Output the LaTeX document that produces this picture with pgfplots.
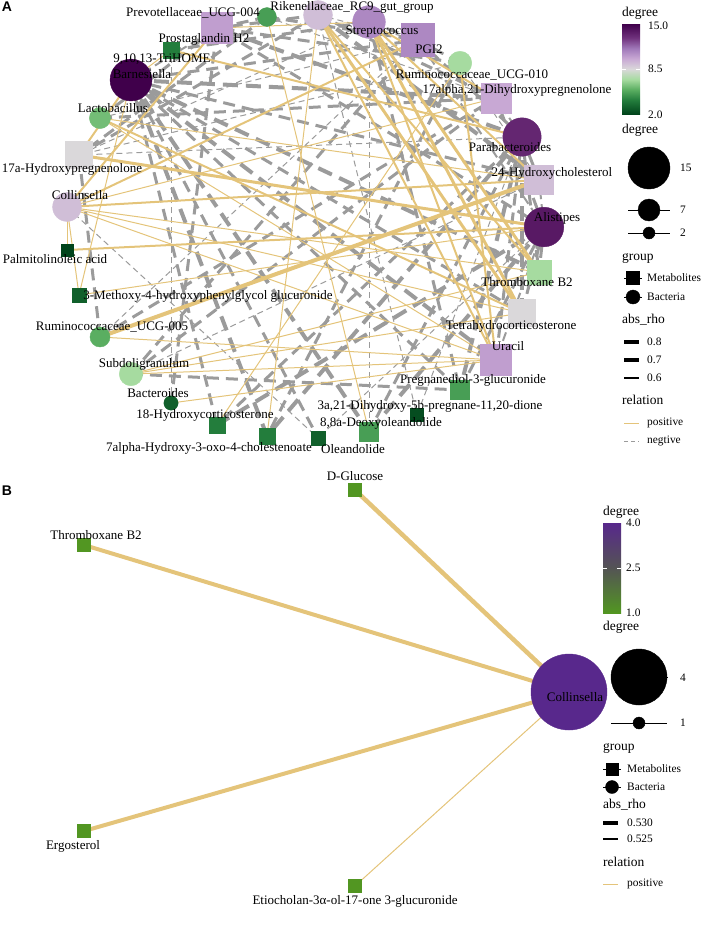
\documentclass[border=0pt]{standalone}
\usepackage{fontspec}
\setmainfont{Liberation Serif}
\newfontfamily\tagfont{Liberation Sans}
\usepackage{pgfplots}
\pgfplotsset{compat=1.18}
\definecolor{eyel}{RGB}{228,196,122}
\definecolor{egray}{RGB}{155,155,155}
\newcommand\lbl{\fontsize{13}{15}\selectfont}
\newcommand\ltitle{\fontsize{13.5}{16}\selectfont}
\newcommand\ltext{\fontsize{11.4}{13}\selectfont}
\tikzset{
 ng1/.style={mark=none, draw=egray, line width=1pt, dash pattern=on 6pt off 4pt, line cap=butt},
 ng2/.style={mark=none, draw=egray, line width=2pt, dash pattern=on 9pt off 5pt, line cap=butt},
 ng3/.style={mark=none, draw=egray, line width=3pt, dash pattern=on 12pt off 7pt, line cap=butt},
 ng4/.style={mark=none, draw=egray, line width=4pt, dash pattern=on 15pt off 8pt, line cap=butt},
 ps1/.style={mark=none, draw=eyel, line width=1pt, solid},
 ps2/.style={mark=none, draw=eyel, line width=2pt, solid},
 ps3/.style={mark=none, draw=eyel, line width=3pt, solid},
 ps4/.style={mark=none, draw=eyel, line width=4pt, solid},
 lab/.style={inner sep=0pt, font=\lbl},
 lt/.style={inner sep=0pt, anchor=west, font=\ltitle},
 lx/.style={inner sep=0pt, anchor=west, font=\ltext},
}
\pgfdeclareverticalshading{prgnA}{100bp}{rgb(0bp)=(0,0.267,0.106); rgb(25bp)=(0,0.267,0.106); rgb(32.7bp)=(0.137,0.49,0.235); rgb(38.5bp)=(0.353,0.682,0.38); rgb(44.2bp)=(0.651,0.859,0.627); rgb(50bp)=(0.855,0.847,0.855); rgb(55.8bp)=(0.784,0.659,0.831); rgb(61.5bp)=(0.627,0.471,0.725); rgb(67.3bp)=(0.439,0.196,0.49); rgb(75bp)=(0.251,0,0.294); rgb(100bp)=(0.251,0,0.294)}
\pgfdeclareverticalshading{cmBbar}{100bp}{rgb(0bp)=(0.32,0.59,0.13); rgb(25bp)=(0.32,0.59,0.13); rgb(50bp)=(0.33,0.33,0.33); rgb(75bp)=(0.345,0.157,0.549); rgb(100bp)=(0.345,0.157,0.549)}
\pgfplotsset{
 colormap={cmA}{rgb255(0cm)=(0,68,27) rgb255(4cm)=(35,125,60) rgb255(7cm)=(90,174,97) rgb255(10cm)=(166,219,160) rgb255(13cm)=(218,216,218) rgb255(16cm)=(200,168,212) rgb255(19cm)=(160,120,185) rgb255(22cm)=(112,50,125) rgb255(26cm)=(64,0,75)},
 colormap={cmB}{rgb255(0cm)=(82,150,34) rgb255(1cm)=(85,85,85) rgb255(2cm)=(88,40,140)},
}
\newcommand\E[3]{\addplot[#1] coordinates {#2 #3};}
\begin{document}
\begin{tikzpicture}
\useasboundingbox (0pt,0pt) rectangle (702pt,-935pt);
% ================= Panel A =================
\begin{axis}[at={(0pt,0pt)}, anchor=north west, scale only axis,
 width=702pt, height=470pt, xmin=0, xmax=702, ymin=0, ymax=470, y dir=reverse,
 axis lines=none, ticks=none, clip=false,
 colormap name=cmA, point meta min=2, point meta max=15]
% negative correlations
\E{ng2}{(131,80)}{(217,28)}
\E{ng3}{(131,80)}{(418,40)}
\E{ng4}{(131,80)}{(496,98)}
\E{ng3}{(131,80)}{(539,180)}
\E{ng4}{(131,80)}{(539,272)}
\E{ng3}{(131,80)}{(522,313)}
\E{ng4}{(131,80)}{(496,360)}
\E{ng3}{(131,80)}{(460,390)}
\E{ng4}{(131,80)}{(369,432)}
\E{ng3}{(131,80)}{(318,438)}
\E{ng4}{(131,80)}{(267,436)}
\E{ng3}{(131,80)}{(217,425)}
\E{ng4}{(522,137)}{(217,28)}
\E{ng3}{(522,137)}{(418,40)}
\E{ng2}{(522,137)}{(496,98)}
\E{ng3}{(522,137)}{(539,180)}
\E{ng3}{(522,137)}{(539,272)}
\E{ng4}{(522,137)}{(522,313)}
\E{ng3}{(522,137)}{(496,360)}
\E{ng4}{(522,137)}{(460,390)}
\E{ng1}{(522,137)}{(417,415)}
\E{ng3}{(522,137)}{(369,432)}
\E{ng4}{(522,137)}{(267,436)}
\E{ng3}{(522,137)}{(217,425)}
\E{ng1}{(522,137)}{(79,155)}
\E{ng3}{(544,227)}{(217,28)}
\E{ng2}{(544,227)}{(418,40)}
\E{ng3}{(544,227)}{(496,98)}
\E{ng2}{(544,227)}{(539,180)}
\E{ng3}{(544,227)}{(539,272)}
\E{ng3}{(544,227)}{(522,313)}
\E{ng2}{(544,227)}{(496,360)}
\E{ng3}{(544,227)}{(460,390)}
\E{ng4}{(544,227)}{(369,432)}
\E{ng1}{(544,227)}{(318,438)}
\E{ng4}{(544,227)}{(217,425)}
\E{ng3}{(369,22)}{(418,40)}
\E{ng3}{(369,22)}{(460,390)}
\E{ng1}{(369,22)}{(369,432)}
\E{ng1}{(369,22)}{(79,155)}
\E{ng3}{(369,22)}{(171,50)}
\E{ng3}{(318,15)}{(217,28)}
\E{ng1}{(318,15)}{(418,40)}
\E{ng3}{(318,15)}{(496,98)}
\E{ng4}{(318,15)}{(539,180)}
\E{ng3}{(318,15)}{(79,155)}
\E{ng1}{(318,15)}{(417,415)}
\E{ng1}{(67,207)}{(318,438)}
\E{ng3}{(460,63)}{(217,28)}
\E{ng3}{(460,63)}{(418,40)}
\E{ng1}{(460,63)}{(539,180)}
\E{ng1}{(460,63)}{(79,155)}
\E{ng3}{(460,63)}{(267,436)}
\E{ng3}{(131,374)}{(418,40)}
\E{ng3}{(131,374)}{(496,98)}
\E{ng1}{(131,374)}{(539,180)}
\E{ng3}{(131,374)}{(460,390)}
\E{ng3}{(100,118)}{(217,28)}
\E{ng1}{(100,118)}{(418,40)}
\E{ng3}{(100,118)}{(496,98)}
\E{ng1}{(100,337)}{(418,40)}
\E{ng3}{(100,337)}{(496,98)}
\E{ng3}{(100,337)}{(79,155)}
\E{ng3}{(267,17)}{(217,28)}
\E{ng3}{(267,17)}{(418,40)}
\E{ng1}{(267,17)}{(496,98)}
\E{ng3}{(267,17)}{(79,155)}
\E{ng3}{(171,403)}{(217,28)}
\E{ng1}{(171,403)}{(171,50)}
% positive correlations
\E{ps1}{(131,80)}{(79,295)}
\E{ps2}{(131,80)}{(79,155)}
\E{ps1}{(131,80)}{(171,50)}
\E{ps2}{(522,137)}{(171,50)}
\E{ps1}{(544,227)}{(79,295)}
\E{ps2}{(544,227)}{(67,250)}
\E{ps3}{(544,227)}{(79,155)}
\E{ps1}{(369,22)}{(217,28)}
\E{ps2}{(369,22)}{(496,98)}
\E{ps2}{(369,22)}{(539,180)}
\E{ps3}{(369,22)}{(539,272)}
\E{ps3}{(369,22)}{(522,313)}
\E{ps2}{(369,22)}{(496,360)}
\E{ps2}{(318,15)}{(539,272)}
\E{ps3}{(318,15)}{(522,313)}
\E{ps2}{(318,15)}{(496,360)}
\E{ps1}{(318,15)}{(267,436)}
\E{ps2}{(67,207)}{(217,28)}
\E{ps2}{(67,207)}{(418,40)}
\E{ps1}{(67,207)}{(496,98)}
\E{ps2}{(67,207)}{(539,180)}
\E{ps1}{(67,207)}{(539,272)}
\E{ps1}{(67,207)}{(522,313)}
\E{ps1}{(67,207)}{(496,360)}
\E{ps1}{(67,207)}{(67,250)}
\E{ps1}{(67,207)}{(79,295)}
\E{ps2}{(460,63)}{(496,360)}
\E{ps1}{(460,63)}{(217,425)}
\E{ps1}{(131,374)}{(496,360)}
\E{ps1}{(131,374)}{(522,313)}
\E{ps1}{(131,374)}{(539,272)}
\E{ps1}{(100,118)}{(496,360)}
\E{ps2}{(100,118)}{(522,313)}
\E{ps1}{(100,118)}{(539,180)}
\E{ps4}{(100,337)}{(539,180)}
\E{ps1}{(100,337)}{(496,360)}
\E{ps1}{(267,17)}{(369,432)}
\E{ps1}{(171,403)}{(496,360)}
% nodes: metabolites (squares)
\addplot[scatter, only marks, mark=square*, point meta=explicit,
 scatter/use mapped color={draw=mapped color, fill=mapped color},
 visualization depends on={\thisrow{deg} \as \dg},
 scatter/@pre marker code/.append style={/tikz/mark size={6+1.15*(\dg-2)}}]
 table[x=x, y=y, meta=deg] {
x y deg
217 28 10.3
418 40 11
496 98 10
539 180 9.3
539 272 7
522 313 8.5
496 360 10.3
460 390 5
417 415 2.3
369 432 5
318 438 3
267 436 4
217 425 4
79 295 3
67 250 2
79 155 8.5
171 50 4
};
% nodes: bacteria (circles)
\addplot[scatter, only marks, mark=*, point meta=explicit,
 scatter/use mapped color={draw=mapped color, fill=mapped color},
 visualization depends on={\thisrow{deg} \as \dg},
 scatter/@pre marker code/.append style={/tikz/mark size={6+1.15*(\dg-2)}}]
 table[x=x, y=y, meta=deg] {
x y deg
267 17 5
318 15 9.3
369 22 11
460 63 7
522 137 13.5
544 227 14
171 403 3
131 374 7
100 337 5.5
67 207 9.3
100 118 6
131 80 15
};
% legend A
\node[lt] at (axis cs:622,13) {degree};
\shade[shading=prgnA] (axis cs:622,24) rectangle (axis cs:640,114);
\draw[white, line width=0.6pt] (axis cs:622,69) -- (axis cs:626,69) (axis cs:636,69) -- (axis cs:640,69);
\node[lx] at (axis cs:648,26) {15.0};
\node[lx] at (axis cs:648,69) {8.5};
\node[lx] at (axis cs:648,115) {2.0};
\node[lt] at (axis cs:622,130) {degree};
\addplot[black, line width=0.9pt, mark=none] coordinates {(628,210) (670,210)};
\addplot[black, line width=0.9pt, mark=none] coordinates {(628,233) (670,233)};
\addplot[only marks, mark=*, black, mark size=21] coordinates {(649,168)};
\addplot[only marks, mark=*, black, mark size=11] coordinates {(649,210)};
\addplot[only marks, mark=*, black, mark size=6] coordinates {(649,233)};
\node[lx] at (axis cs:680,168) {15};
\node[lx] at (axis cs:680,210) {7};
\node[lx] at (axis cs:680,233) {2};
\node[lt] at (axis cs:622,258) {group};
\addplot[black, line width=0.9pt, mark=none] coordinates {(624,278) (642,278)};
\addplot[black, line width=0.9pt, mark=none] coordinates {(624,297) (642,297)};
\addplot[only marks, mark=square*, black, mark size=6.5] coordinates {(633,278)};
\addplot[only marks, mark=*, black, mark size=7] coordinates {(633,297)};
\node[lx] at (axis cs:647,278) {Metabolites};
\node[lx] at (axis cs:647,297) {Bacteria};
\node[lt] at (axis cs:622,320) {abs\_rho};
\addplot[black, line width=4pt, mark=none] coordinates {(624,342) (639,342)};
\addplot[black, line width=3.2pt, mark=none] coordinates {(624,360) (639,360)};
\addplot[black, line width=2.4pt, mark=none] coordinates {(624,378) (639,378)};
\node[lx] at (axis cs:647,342) {0.8};
\node[lx] at (axis cs:647,360) {0.7};
\node[lx] at (axis cs:647,378) {0.6};
\node[lt] at (axis cs:622,400) {relation};
\addplot[eyel, line width=1pt, mark=none] coordinates {(624,423) (639,423)};
\addplot[egray, line width=1pt, mark=none, dash pattern=on 4pt off 3pt] coordinates {(624,441) (639,441)};
\node[lx] at (axis cs:647,423) {positive};
\node[lx] at (axis cs:647,441) {negtive};
\end{axis}
% node labels of panel A, on top of the nodes (1pt = 1 axis unit, y downwards)
\node[lab] at (204pt,-39pt) {Prostaglandin H2};
\node[lab] at (193pt,-13pt) {Prevotellaceae\_UCG-004};
\node[lab] at (352pt,-7pt) {Rikenellaceae\_RC9\_gut\_group};
\node[lab] at (382pt,-32pt) {Streptococcus};
\node[lab] at (429pt,-49pt) {PGI2};
\node[lab] at (472pt,-75pt) {Ruminococcaceae\_UCG-010};
\node[lab] at (517pt,-90pt) {17alpha,21-Dihydroxypregnenolone};
\node[lab] at (510pt,-147pt) {Parabacteroides};
\node[lab] at (552pt,-173pt) {24-Hydroxycholesterol};
\node[lab] at (557pt,-218pt) {Alistipes};
\node[lab] at (527pt,-282pt) {Thromboxane B2};
\node[lab] at (511pt,-326pt) {Tetrahydrocorticosterone};
\node[lab] at (508pt,-346pt) {Uracil};
\node[lab] at (473pt,-380pt) {Pregnanediol-3-glucuronide};
\node[lab] at (430pt,-406pt) {3a,21-Dihydroxy-5b-pregnane-11,20-dione};
\node[lab] at (381pt,-423pt) {8,8a-Deoxyoleandolide};
\node[lab] at (353pt,-449pt) {Oleandolide};
\node[lab] at (209pt,-448pt) {7alpha-Hydroxy-3-oxo-4-cholestenoate};
\node[lab] at (205pt,-415pt) {18-Hydroxycorticosterone};
\node[lab] at (158pt,-393pt) {Bacteroides};
\node[lab] at (144pt,-364pt) {Subdoligranulum};
\node[lab] at (112pt,-327pt) {Ruminococcaceae\_UCG-005};
\node[lab] at (208pt,-296pt) {3-Methoxy-4-hydroxyphenylglycol glucuronide};
\node[lab] at (55pt,-259pt) {Palmitolinoleic acid};
\node[lab] at (80pt,-195pt) {Collinsella};
\node[lab] at (72pt,-169pt) {17a-Hydroxypregnenolone};
\node[lab] at (113pt,-108pt) {Lactobacillus};
\node[lab] at (142pt,-74pt) {Barnesiella};
\node[lab] at (162pt,-59pt) {9,10,13-TriHOME};
\node[inner sep=0pt, font=\tagfont\bfseries\fontsize{14}{16}\selectfont] at (7pt,-7pt) {A};
% ================= Panel B =================
\begin{axis}[at={(0pt,-470pt)}, anchor=north west, scale only axis,
 width=702pt, height=465pt, xmin=0, xmax=702, ymin=470, ymax=935, y dir=reverse,
 axis lines=none, ticks=none, clip=false,
 colormap name=cmB, point meta min=1, point meta max=4]
\addplot[mark=none, draw=eyel, line width=4.5pt] coordinates {(569,692) (355,490)};
\E{ps4}{(569,692)}{(84,545)}
\E{ps4}{(569,692)}{(84,831)}
\E{ps1}{(569,692)}{(355,886)}
\addplot[scatter, only marks, mark=square*, mark size=6.5, point meta=explicit,
 scatter/use mapped color={draw=mapped color, fill=mapped color}]
 table[x=x, y=y, meta=deg] {
x y deg
355 490 1
84 545 1
84 831 1
355 886 1
};
\addplot[scatter, only marks, mark=*, mark size=38, point meta=explicit,
 scatter/use mapped color={draw=mapped color, fill=mapped color}]
 table[x=x, y=y, meta=deg] {
x y deg
569 692 4
};
% legend B
\node[lt] at (axis cs:603,512) {degree};
\shade[shading=cmBbar] (axis cs:603,523) rectangle (axis cs:621,613);
\draw[white, line width=0.6pt] (axis cs:603,568) -- (axis cs:607,568) (axis cs:617,568) -- (axis cs:621,568);
\node[lx] at (axis cs:626,523) {4.0};
\node[lx] at (axis cs:626,568) {2.5};
\node[lx] at (axis cs:626,613) {1.0};
\node[lt] at (axis cs:603,627) {degree};
\addplot[black, line width=0.9pt, mark=none] coordinates {(611,677) (668,677)};
\addplot[black, line width=0.9pt, mark=none] coordinates {(611,723) (667,723)};
\addplot[only marks, mark=*, black, mark size=28] coordinates {(639,677)};
\addplot[only marks, mark=*, black, mark size=6] coordinates {(639,723)};
\node[lx] at (axis cs:680,678) {4};
\node[lx] at (axis cs:680,723) {1};
\node[lt] at (axis cs:603,748) {group};
\addplot[black, line width=0.9pt, mark=none] coordinates {(603,769) (621,769)};
\addplot[black, line width=0.9pt, mark=none] coordinates {(603,787) (621,787)};
\addplot[only marks, mark=square*, black, mark size=6] coordinates {(612,769)};
\addplot[only marks, mark=*, black, mark size=6.5] coordinates {(612,787)};
\node[lx] at (axis cs:627,769) {Metabolites};
\node[lx] at (axis cs:627,787) {Bacteria};
\node[lt] at (axis cs:603,805) {abs\_rho};
\addplot[black, line width=3.3pt, mark=none] coordinates {(603,823) (618,823)};
\addplot[black, line width=2.8pt, mark=none] coordinates {(603,839) (618,839)};
\node[lx] at (axis cs:627,823) {0.530};
\node[lx] at (axis cs:627,839) {0.525};
\node[lt] at (axis cs:603,862) {relation};
\addplot[eyel, line width=1pt, mark=none] coordinates {(603,884) (618,884)};
\node[lx] at (axis cs:627,884) {positive};
\end{axis}
% node labels of panel B
\node[lab] at (355pt,-476pt) {D-Glucose};
\node[lab] at (96pt,-535pt) {Thromboxane B2};
\node[lab] at (575pt,-697pt) {Collinsella};
\node[lab] at (73pt,-846pt) {Ergosterol};
\node[lab] at (355pt,-901pt) {Etiocholan-3α-ol-17-one 3-glucuronide};
\node[inner sep=0pt, font=\tagfont\bfseries\fontsize{14}{16}\selectfont] at (7pt,-491pt) {B};
\end{tikzpicture}
\end{document}
